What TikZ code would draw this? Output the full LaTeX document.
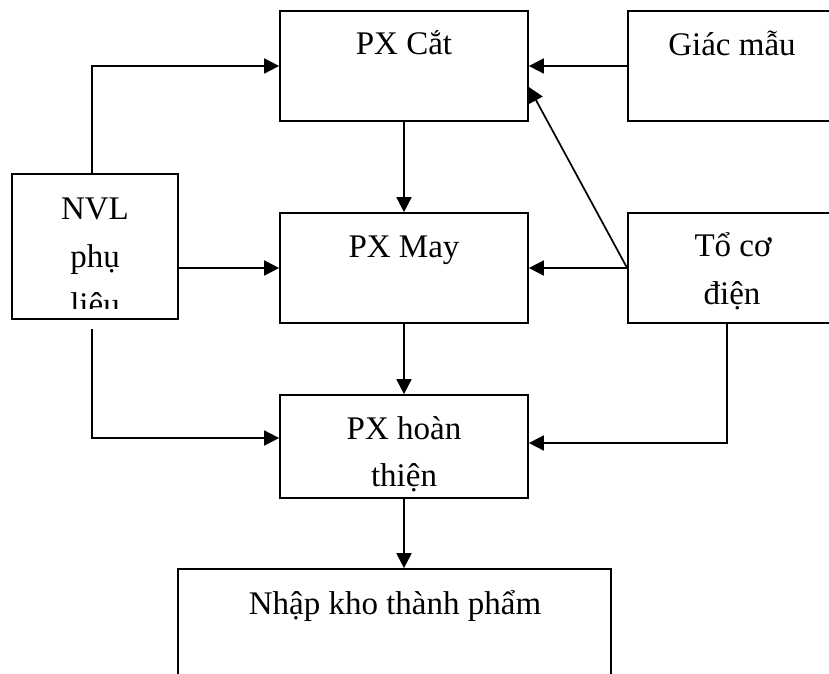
\documentclass[tikz,border=0pt]{standalone}
\usepackage{fontspec}
\setmainfont{Liberation Serif}
\usetikzlibrary{arrows.meta}
\begin{document}
\begin{tikzpicture}[x=1pt,y=-1pt,
  box/.style={draw,line width=1.7pt,inner sep=0pt},
  txt/.style={anchor=base,inner sep=0pt,font=\fontsize{33}{38}\selectfont},
  arr/.style={line width=1.7pt,-{Triangle[length=15pt,width=15pt]}},
  ln/.style={line width=1.7pt}]
\useasboundingbox (0,0) rectangle (829,673);
\clip (0,0) rectangle (829,673);
% boxes
\node[box,minimum width=248pt,minimum height=110pt] (cat) at (404,66) {};
\node[box,minimum width=210pt,minimum height=110pt] (giac) at (733,66) {};
\node[box,minimum width=166pt,minimum height=145pt] (nvl) at (95,246.5) {};
\node[box,minimum width=248pt,minimum height=110pt] (may) at (404,268) {};
\node[box,minimum width=210pt,minimum height=110pt] (to) at (733,268) {};
\node[box,minimum width=248pt,minimum height=103pt] (ht) at (404,446.5) {};
\node[box,minimum width=433pt,minimum height=140pt] (nk) at (394.5,639) {};
% texts
\node[txt] (catT) at (404,54) {PX Cắt};
\node[txt] (giacT) at (732,55) {Giác mẫu};
\node[txt] (nvlT1) at (95,219) {NVL};
\node[txt] (nvlT2) at (95,267) {phụ};
\begin{scope}
\clip (12,280) rectangle (178,308);
\node[txt] (nvlT3) at (95,315) {liệu};
\end{scope}
\node[txt] (mayT) at (404,257) {PX May};
\node[txt] (toT1) at (733,256) {Tổ cơ};
\node[txt] (toT2) at (732,304) {điện};
\node[txt] (htT1) at (404,439) {PX hoàn};
\node[txt] (htT2) at (404,486) {thiện};
\node[txt] (nkT) at (395,614) {Nhập kho thành phẩm};
% connectors
\draw[arr] ([xshift=-3pt]nvl.north) |- (cat.west);
\draw[arr] (may.west -| nvl.east) -- (may.west);
\draw[arr,shorten <=9pt] ([xshift=-3pt]nvl.south) |- ([yshift=8.5pt]ht.west);
\draw[arr] (giac.west) -- (cat.east);
\draw[arr] (cat.south) -- (may.north);
\draw[arr] (to.west) -- (may.east);
\draw[arr] (to.west) -- ([yshift=-21pt]cat.east);
\draw[arr] ([xshift=-6pt]to.south) |- ([yshift=3.5pt]ht.east);
\draw[arr] (may.south) -- (ht.north);
\draw[arr] (ht.south) -- (ht.south |- nk.north);
\end{tikzpicture}
\end{document}
